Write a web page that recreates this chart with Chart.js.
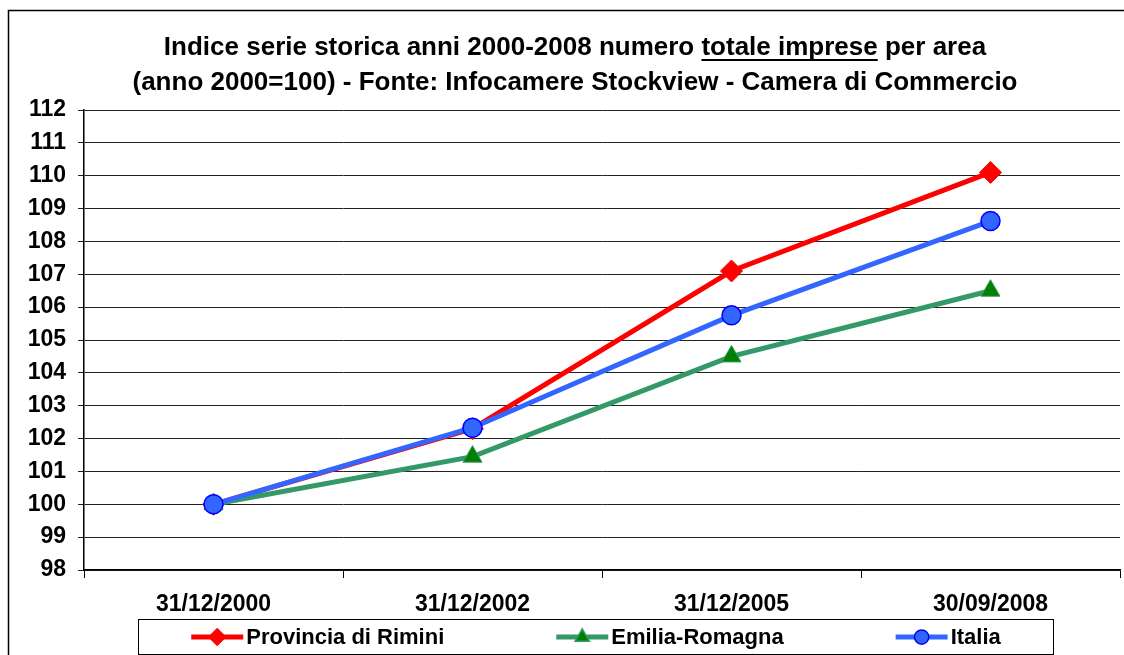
<!DOCTYPE html>
<html>
<head>
<meta charset="utf-8">
<script src="https://cdn.jsdelivr.net/npm/chart.js@4/dist/chart.umd.min.js"></script>
<style>
  body { margin: 0; background: #fff; }
  #chart { display: block; }
</style>
</head>
<body>
<canvas id="chart" width="1124" height="655"></canvas>
<script>
// dati
var categories = ["31/12/2000", "31/12/2002", "31/12/2005", "30/09/2008"];
var rimini = [100, 102.3, 107.1, 110.1];
var emiliaRomagna = [100, 101.45, 104.5, 106.5];
var italia = [100, 102.33, 105.75, 108.62];
var seriesNames = ["Provincia di Rimini", "Emilia-Romagna", "Italia"];
var yTicks = [98, 99, 100, 101, 102, 103, 104, 105, 106, 107, 108, 109, 110, 111, 112];

// titolo: [testo, sottolineato?]
var titleLine1 = [["Indice serie storica anni 2000-2008 numero ", false], ["totale imprese", true], [" per area", false]];
var titleLine2 = [["(anno 2000=100) - Fonte: Infocamere Stockview - Camera di Commercio", false]];

var FONT = "'Liberation Sans', Arial, sans-serif";

// disegna titolo, legenda e cornice
var decorPlugin = {
    id: 'decor',
    afterDraw: function (chart) {
        var ctx = chart.ctx;
        ctx.save();

        // cornice esterna
        ctx.strokeStyle = '#000';
        ctx.lineWidth = 1.5;
        ctx.beginPath();
        ctx.moveTo(8.5, 660);
        ctx.lineTo(8.5, 10.5);
        ctx.lineTo(1130, 10.5);
        ctx.stroke();

        // titolo
        ctx.font = 'bold 26px ' + FONT;
        ctx.fillStyle = '#000';
        ctx.textBaseline = 'middle';
        ctx.textAlign = 'left';
        [[titleLine1, 48], [titleLine2, 83]].forEach(function (row) {
            var parts = row[0], y = row[1];
            var total = 0;
            parts.forEach(function (p) { total += ctx.measureText(p[0]).width; });
            var x = 575 - total / 2;
            parts.forEach(function (p) {
                var w = ctx.measureText(p[0]).width;
                ctx.fillText(p[0], x, y);
                if (p[1]) {
                    ctx.fillRect(x, y + 11, w, 2);
                }
                x += w;
            });
        });

        // legenda
        var box = { x: 138.5, y: 619.5, w: 915, h: 35 };
        ctx.strokeStyle = '#000';
        ctx.lineWidth = 1;
        ctx.strokeRect(box.x, box.y, box.w, box.h);
        ctx.font = 'bold 22px ' + FONT;
        var lineLen = 52, gap = 112;
        var widths = chart.data.datasets.map(function (ds) {
            return lineLen + 3 + ctx.measureText(ds.label).width;
        });
        var totalW = widths.reduce(function (a, b) { return a + b; }, 0) + gap * (widths.length - 1);
        var lx = box.x + box.w / 2 - totalW / 2;
        var ly = box.y + box.h / 2;
        chart.data.datasets.forEach(function (ds, i) {
            ctx.strokeStyle = ds.borderColor;
            ctx.lineWidth = 5;
            ctx.beginPath();
            ctx.moveTo(lx, ly);
            ctx.lineTo(lx + lineLen, ly);
            ctx.stroke();
            ctx.fillStyle = ds.pointBackgroundColor;
            ctx.strokeStyle = ds.pointBorderColor;
            ctx.lineWidth = 1.5;
            Chart.helpers.drawPoint(ctx, {
                pointStyle: ds.pointStyle,
                radius: ds.pointRadius * 0.75,
                rotation: 0,
                borderWidth: 1.5
            }, lx + lineLen / 2, ly);
            ctx.fillStyle = '#000';
            ctx.textBaseline = 'middle';
            ctx.fillText(ds.label, lx + lineLen + 3, ly + 1);
            lx += widths[i] + gap;
        });
        ctx.restore();
    }
};

var ctx = document.getElementById('chart').getContext('2d');
new Chart(ctx, {
    type: 'line',
    data: {
        labels: categories,
        datasets: [{
            label: seriesNames[0],
            data: rimini,
            borderColor: '#FF0000',
            borderWidth: 5,
            pointStyle: 'rectRot',
            pointRadius: 11,
            pointBackgroundColor: '#FF0000',
            pointBorderColor: '#FF0000',
            pointBorderWidth: 1,
            order: 3
        }, {
            label: seriesNames[1],
            data: emiliaRomagna,
            borderColor: '#339966',
            borderWidth: 5,
            pointStyle: 'triangle',
            pointRadius: 11,
            pointBackgroundColor: '#008000',
            pointBorderColor: '#339966',
            pointBorderWidth: 1,
            order: 2
        }, {
            label: seriesNames[2],
            data: italia,
            borderColor: '#3366FF',
            borderWidth: 5,
            pointStyle: 'circle',
            pointRadius: 9.5,
            pointBackgroundColor: '#3366FF',
            pointBorderColor: '#0000FF',
            pointBorderWidth: 1.5,
            order: 1
        }]
    },
    options: {
        responsive: false,
        animation: false,
        tension: 0,
        layout: { autoPadding: false, padding: { top: 110, left: 0, right: 4, bottom: 0 } },
        plugins: {
            legend: { display: false },
            title: { display: false },
            tooltip: { enabled: false }
        },
        scales: {
            x: {
                offset: true,
                grid: { offset: true, drawOnChartArea: false, tickLength: 8, color: '#000', lineWidth: 1 },
                border: { color: '#000', width: 1.5 },
                ticks: {
                    color: '#000',
                    padding: 13,
                    maxRotation: 0,
                    font: { family: FONT, size: 23, weight: 'bold' }
                },
                afterFit: function (s) { s.height = 85; }
            },
            y: {
                min: yTicks[0],
                max: yTicks[yTicks.length - 1],
                afterBuildTicks: function (s) {
                    s.ticks = yTicks.map(function (v) { return { value: v }; });
                },
                grid: { color: '#222', lineWidth: 1, tickLength: 6 },
                border: { color: '#000', width: 1.5 },
                ticks: {
                    color: '#000',
                    padding: 12,
                    font: { family: FONT, size: 23, weight: 'bold' }
                },
                afterFit: function (s) { s.width = 84; }
            }
        }
    },
    plugins: [decorPlugin]
});
</script>
</body>
</html>
